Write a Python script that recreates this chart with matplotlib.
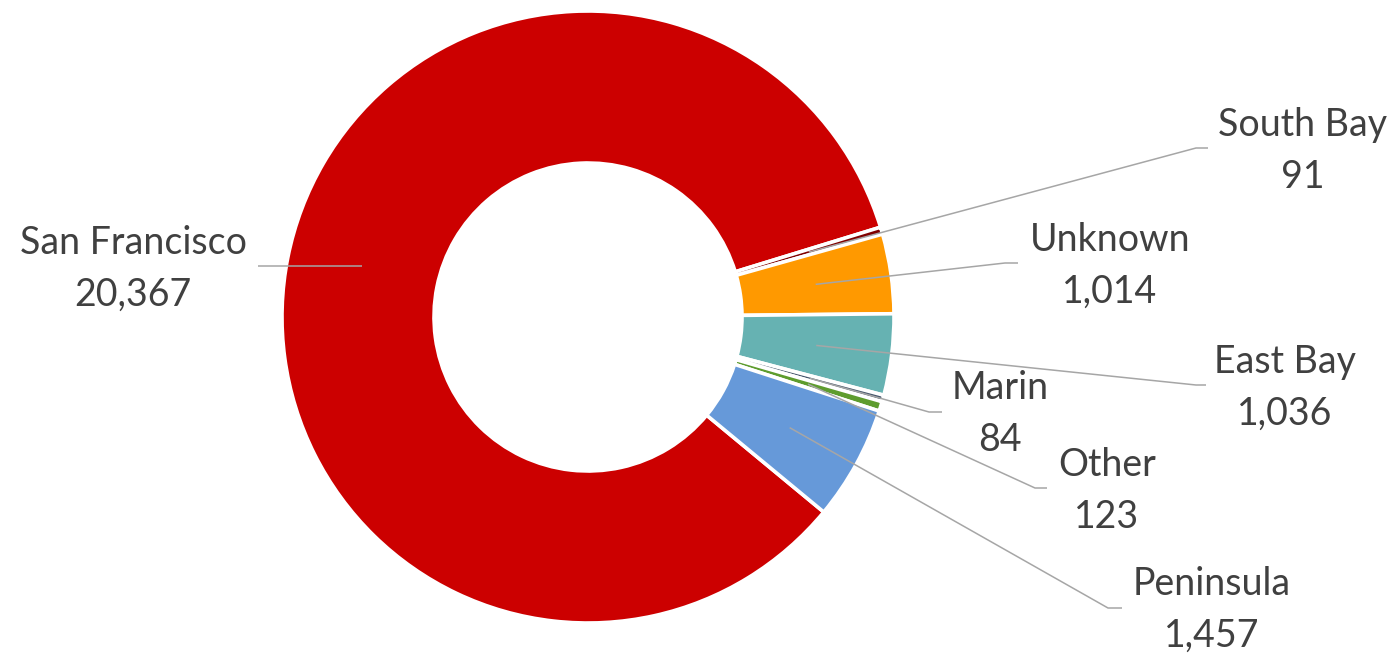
import numpy as np
import matplotlib
matplotlib.use('Agg')
import matplotlib.pyplot as plt

# ── Data ────────────────────────────────────────────────────
regions = ['San Francisco', 'South Bay', 'Unknown', 'East Bay', 'Marin', 'Other', 'Peninsula']
counts = [20367, 91, 1014, 1036, 84, 123, 1457]
colors = ['#CC0000', '#7F0000', '#FF9900', '#66B2B2', '#44546A', '#5E9C2E', '#6699D9']

# label layout in pixels from top-left: (text centre x, name line y, leader elbow x, elbow y, tail x)
# elbow x of None -> straight horizontal leader at elbow y
label_pos = {
    'San Francisco': (133, 243, None, 266, 258),
    'South Bay':     (1303, 125, 1196, 148, 1208),
    'Unknown':       (1110, 240, 1005, 263, 1018),
    'East Bay':      (1285, 362, 1196, 385, 1206),
    'Marin':         (1000, 388, 929, 412, 942),
    'Other':         (1107, 465, 1035, 488, 1047),
    'Peninsula':     (1212, 584, 1108, 608, 1122),
}

W, H = 1398, 656
CX, CY, R, RING = 588, 317, 306, 152

def fy(y):
    return H - y

fig = plt.figure(figsize=(W / 100, H / 100), dpi=100)
ax = fig.add_axes([0, 0, 1, 1])

wedges, _ = ax.pie(counts, colors=colors, startangle=320.4, counterclock=False,
                   radius=R, center=(CX, fy(CY)),
                   wedgeprops=dict(width=RING, edgecolor='white', linewidth=2.6))

ax.set_xlim(0, W)
ax.set_ylim(0, H)
ax.set_aspect('equal')
ax.axis('off')

rmid = R - RING / 2
for name, val, w in zip(regions, counts, wedges):
    tx, ty, ex, ey, hx = label_pos[name]
    ang = np.deg2rad((w.theta1 + w.theta2) / 2)
    sx = CX + rmid * np.cos(ang)
    sy = fy(CY) + rmid * np.sin(ang)
    if ex is None:
        xs, ys = [sx, hx], [fy(ey), fy(ey)]
    else:
        xs, ys = [sx, ex, hx], [sy, fy(ey), fy(ey)]
    ax.plot(xs, ys, color='#A6A6A6', lw=1.1, solid_capstyle='butt', zorder=3)
    ax.text(tx, fy(ty), name, ha='center', va='center', fontsize=27,
            family='Lato', color='#404040')
    ax.text(tx, fy(ty + 52), f'{val:,}', ha='center', va='center', fontsize=27,
            family='Lato', color='#404040')

fig.savefig('out.png', dpi=100)
